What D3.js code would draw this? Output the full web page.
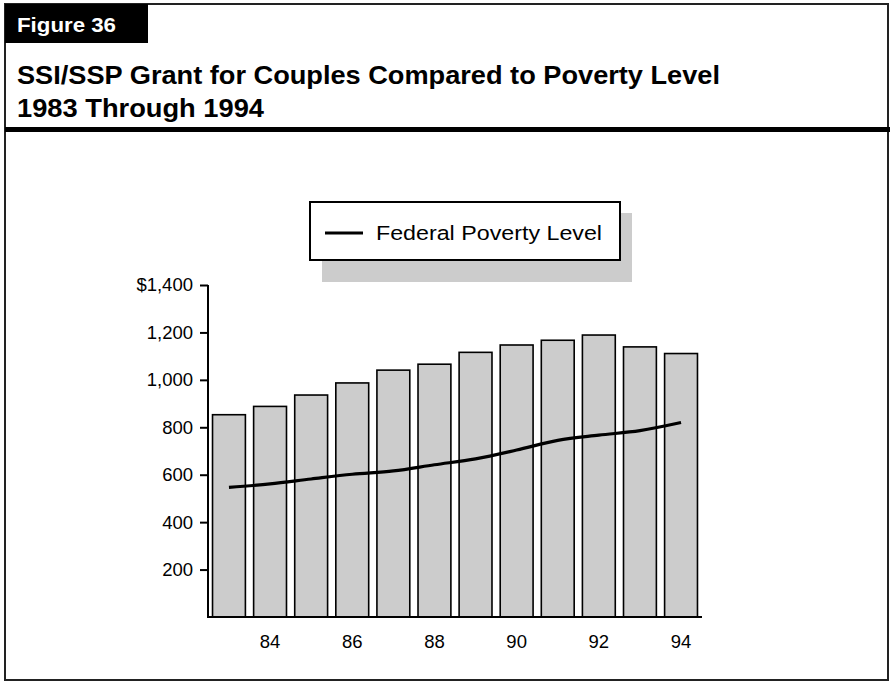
<!DOCTYPE html>
<html>
<head>
<meta charset="utf-8">
<script src="https://cdn.jsdelivr.net/npm/d3@7"></script>
<style>
  html, body { margin: 0; padding: 0; background: #fff; }
  svg { display: block; }
  text { font-family: "Liberation Sans", Arial, Helvetica, sans-serif; }
</style>
</head>
<body>
<svg id="chart" width="891" height="683"></svg>
<script>
// ---- Data ----
const years = [1983, 1984, 1985, 1986, 1987, 1988, 1989, 1990, 1991, 1992, 1993, 1994];
const grantValues = [853, 888, 936, 987, 1041, 1066, 1116, 1147, 1167, 1189, 1139, 1111];
const povertyValues = [547, 561, 582, 602, 616, 642, 667, 704, 745, 767, 786, 820];
const yTickValues = [200, 400, 600, 800, 1000, 1200, 1400];
const xLabelYears = [1984, 1986, 1988, 1990, 1992, 1994];
const figureLabel = "Figure 36";
const titleLines = ["SSI/SSP Grant for Couples Compared to Poverty Level", "1983 Through 1994"];
const legendLabel = "Federal Poverty Level";

const svg = d3.select("#chart");

// ---- Frame ----
svg.append("rect").attr("x", 5).attr("y", 4).attr("width", 883).attr("height", 676)
  .attr("fill", "#fff").attr("stroke", "#222").attr("stroke-width", 2);

// Figure label box
svg.append("rect").attr("x", 5).attr("y", 4).attr("width", 143).attr("height", 39).attr("fill", "#000");
svg.append("text").attr("x", 17).attr("y", 32).attr("fill", "#fff")
  .attr("font-size", 20).attr("font-weight", "bold")
  .attr("textLength", 99).attr("lengthAdjust", "spacingAndGlyphs").text(figureLabel);

// Title
svg.append("text").attr("x", 17).attr("y", 84).attr("font-size", 26.5).attr("font-weight", "bold")
  .attr("textLength", 703).attr("lengthAdjust", "spacingAndGlyphs").text(titleLines[0]);
svg.append("text").attr("x", 17).attr("y", 117).attr("font-size", 26.5).attr("font-weight", "bold")
  .attr("textLength", 247).attr("lengthAdjust", "spacingAndGlyphs").text(titleLines[1]);

// Thick rule
svg.append("rect").attr("x", 5).attr("y", 127).attr("width", 885).attr("height", 5).attr("fill", "#000");

// ---- Scales ----
const x = d3.scaleBand().domain(years).range([208, 702]).paddingInner(0.2).paddingOuter(0.11);
const y = d3.scaleLinear().domain([0, 1400]).range([617, 285]);

// Bars
svg.append("g").selectAll("rect").data(years).join("rect")
  .attr("x", d => x(d))
  .attr("y", (d, i) => y(grantValues[i]))
  .attr("width", x.bandwidth())
  .attr("height", (d, i) => y(0) - y(grantValues[i]))
  .attr("fill", "#cccccc").attr("stroke", "#000").attr("stroke-width", 1.6);

// Poverty line
const line = d3.line()
  .x((d, i) => x(years[i]) + x.bandwidth() / 2)
  .y(d => y(d))
  .curve(d3.curveMonotoneX);
svg.append("path").datum(povertyValues).attr("d", line)
  .attr("fill", "none").attr("stroke", "#000").attr("stroke-width", 3.2);

// Y axis
const yAxis = d3.axisLeft(y).tickValues(yTickValues).tickSize(8).tickPadding(7)
  .tickFormat(d => d === 1400 ? "$" + d3.format(",")(d) : d3.format(",")(d));
const gy = svg.append("g").attr("transform", "translate(208,0)").call(yAxis);
gy.select(".domain").attr("d", `M0,${y(1400)}V${y(0) + 1}`).attr("stroke", "#000").attr("stroke-width", 2);
gy.selectAll(".tick line").attr("stroke", "#000").attr("stroke-width", 2);
gy.selectAll(".tick text").attr("font-size", 18.5).attr("fill", "#000")
  .attr("font-family", "Liberation Sans, Arial, sans-serif");

// X axis
const xAxis = d3.axisBottom(x).tickValues(xLabelYears).tickSize(0).tickPadding(18)
  .tickFormat(d => String(d).slice(2));
const gx = svg.append("g").attr("transform", `translate(0,${y(0)})`).call(xAxis);
gx.select(".domain").attr("d", "M207,0H702").attr("stroke", "#000").attr("stroke-width", 2);
gx.selectAll(".tick text").attr("font-size", 18.5).attr("fill", "#000")
  .attr("font-family", "Liberation Sans, Arial, sans-serif");

// ---- Legend ----
const lg = svg.append("g");
lg.append("rect").attr("x", 322).attr("y", 213).attr("width", 310).attr("height", 69).attr("fill", "#cccccc");
lg.append("rect").attr("x", 310).attr("y", 202).attr("width", 310).attr("height", 58)
  .attr("fill", "#fff").attr("stroke", "#000").attr("stroke-width", 2);
lg.append("line").attr("x1", 325).attr("x2", 363).attr("y1", 233).attr("y2", 233)
  .attr("stroke", "#000").attr("stroke-width", 3.2);
lg.append("text").attr("x", 376).attr("y", 240).attr("font-size", 20.5)
  .attr("textLength", 226).attr("lengthAdjust", "spacingAndGlyphs").text(legendLabel);
</script>
</body>
</html>
